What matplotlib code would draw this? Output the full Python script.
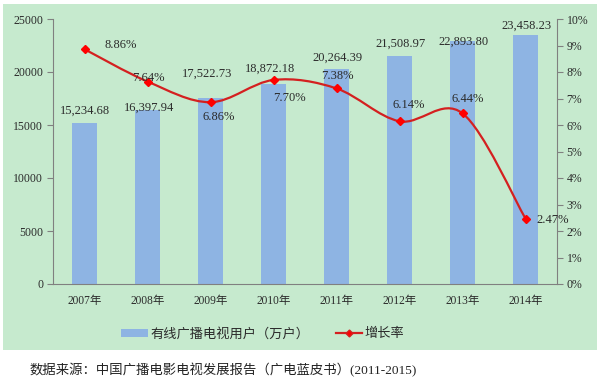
import matplotlib.pyplot as plt
from matplotlib.path import Path
from matplotlib.patches import PathPatch, Rectangle
from matplotlib.lines import Line2D

years = ['2007年', '2008年', '2009年', '2010年', '2011年', '2012年', '2013年', '2014年']
users = [15234.68, 16397.94, 17522.73, 18872.18, 20264.39, 21508.97, 22893.80, 23458.23]
growth = [8.86, 7.64, 6.86, 7.70, 7.38, 6.14, 6.44, 2.47]

# label offsets in pixels (dx, dy up)
user_dy = [12, 2, 25, 15, 11, 12, 0, 10]
user_dx = [0, 2, -3, -3, 1, 1, 1, 1]
growth_off = [(36, 4), (1, 4), (8, -15), (16, -18), (1, 12), (9, 16), (5, 14), (27, -1)]

BG = '#C6EACE'
BAR = '#8EB4E3'
RED = '#D42020'
SERIF = ['Liberation Serif', 'Noto Sans CJK SC']
CJK = ['Noto Sans CJK SC', 'DejaVu Sans']
TXT = '#2b2b2b'

fig = plt.figure(figsize=(6, 3.83), dpi=100)
fig.patches.append(Rectangle((3 / 600, 1 - 350 / 383), 594 / 600, 346 / 383,
                             transform=fig.transFigure, facecolor=BG, edgecolor='none', zorder=-10))

ax = fig.add_axes([53 / 600, 1 - 284 / 383, 504 / 600, 265 / 383])
ax.patch.set_visible(False)
x = list(range(len(years)))
ax.bar(x, users, width=0.4, color=BAR, zorder=2)
ax.set_xlim(-0.5, len(years) - 0.5)
ax.set_ylim(0, 25000)
ax.set_yticks(range(0, 25001, 5000))
ax.set_xticks(x)
ax.set_xticklabels(years, family=SERIF, fontsize=8.3, color=TXT)
for lab in ax.get_yticklabels():
    lab.set_family(SERIF)
    lab.set_fontsize(8.5)
    lab.set_color(TXT)
ax.tick_params(axis='x', length=0, pad=8)
ax.tick_params(axis='y', length=4, color='#808080', pad=3)
for s in ['top', 'right']:
    ax.spines[s].set_visible(False)
for s in ['left', 'bottom']:
    ax.spines[s].set_color('#808080')

for i, v in enumerate(users):
    ax.annotate(f'{v:,.2f}', (i, v), xytext=(user_dx[i] * 0.72, user_dy[i] * 0.72),
                textcoords='offset points', ha='center', va='center',
                family=SERIF, fontsize=9, color=TXT, zorder=5)

ax2 = ax.twinx()
ax2.patch.set_visible(False)
ax2.set_ylim(0, 10)
ax2.set_yticks(range(0, 11))
ax2.set_yticklabels([f'{t}%' for t in range(0, 11)], family=SERIF, fontsize=8.5, color=TXT)
ax2.tick_params(axis='y', length=4, color='#808080', pad=3)
for s in ['top', 'left', 'bottom']:
    ax2.spines[s].set_visible(False)
ax2.spines['right'].set_color('#808080')

# smoothed line (Catmull-Rom as cubic Bezier)
pts = list(zip(x, growth))
ext = [pts[0]] + pts + [pts[-1]]
verts = [pts[0]]
codes = [Path.MOVETO]
for i in range(len(pts) - 1):
    p0, p1, p2, p3 = ext[i], ext[i + 1], ext[i + 2], ext[i + 3]
    c1 = (p1[0] + (p2[0] - p0[0]) / 6, p1[1] + (p2[1] - p0[1]) / 6)
    c2 = (p2[0] - (p3[0] - p1[0]) / 6, p2[1] - (p3[1] - p1[1]) / 6)
    verts += [c1, c2, p2]
    codes += [Path.CURVE4] * 3
ax2.add_patch(PathPatch(Path(verts, codes), facecolor='none', edgecolor=RED, lw=1.6, zorder=3))
ax2.plot(x, growth, linestyle='none', marker='D', markersize=4.5, color='#FF0000', zorder=4)

for i, v in enumerate(growth):
    dx, dy = growth_off[i]
    ax2.annotate(f'{v:.2f}%', (i, v), xytext=(dx * 0.72, dy * 0.72),
                 textcoords='offset points', ha='center', va='center',
                 family=SERIF, fontsize=9, color=TXT, zorder=5)

handles = [Rectangle((0, 0), 1, 1, facecolor=BAR, edgecolor='none'),
           Line2D([], [], color=RED, lw=1.6, marker='D', markersize=3.5, markerfacecolor='#FF0000')]
fig.legend(handles, ['有线广播电视用户（万户）', '增长率'], loc='center',
           bbox_to_anchor=(263 / 600, 1 - 334 / 383), ncol=2, frameon=False,
           prop={'family': CJK, 'size': 9.5}, handlelength=2.0, handleheight=0.6,
           columnspacing=2.0, handletextpad=0.2, labelcolor=TXT)

fig.text(30 / 600, 1 - 370 / 383, '数据来源：中国广播电影电视发展报告（广电蓝皮书）(2011-2015)',
         family=SERIF, fontsize=9.6, color='#222222', va='center', ha='left')

fig.savefig('out.png', dpi=100)
